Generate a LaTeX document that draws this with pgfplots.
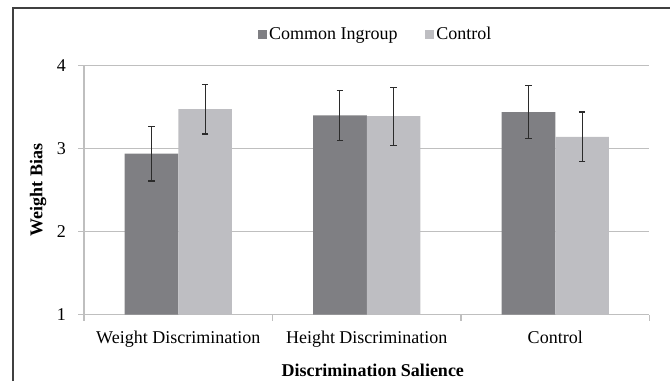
\documentclass[border=0pt]{standalone}
\usepackage{fontspec}
\setmainfont{Liberation Serif}
\usepackage{pgfplots}
\pgfplotsset{compat=1.18}
\definecolor{darkbar}{HTML}{7F7F83}
\definecolor{lightbar}{HTML}{BEBEC2}
\definecolor{gridc}{HTML}{BFBFBF}
\definecolor{errc}{HTML}{2B2B2B}
\definecolor{framec}{HTML}{404040}
\begin{document}
\begin{tikzpicture}[x=1pt,y=1pt]
\useasboundingbox (0,0) rectangle (335,190.5);
\draw[framec, line width=0.7pt] (6.5,0) -- (6.5,186.5) -- (335,186.5);
\begin{axis}[
  at={(42pt,33.2pt)}, anchor=south west,
  scale only axis, width=282.75pt, height=124.5pt,
  font=\fontsize{9}{11}\selectfont,
  /pgf/number format/assume math mode=true,
  ybar=0pt, bar width=26.86pt,
  ymin=1, ymax=4, ytick={1,2,3,4},
  yticklabel style={xshift=-2.5pt},
  xmin=-0.5, xmax=2.5,
  xtick={-0.5,0.5,1.5,2.5}, xticklabels={},
  extra x ticks={0,1,2},
  extra x tick labels={Weight Discrimination, Height Discrimination, Control},
  extra x tick style={major tick length=0pt, grid=none, xticklabel style={yshift=-4.5pt}},
  axis lines*=left, axis line style={gridc, line width=0.6pt, -},
  tick style={gridc, line width=0.6pt},
  major tick length=3pt, tick align=outside,
  ymajorgrids, grid style={gridc, line width=0.6pt},
  every axis y label/.style={at={(axis description cs:0,0.5)}, xshift=-23pt, rotate=90, anchor=center},
  every axis x label/.style={at={(axis description cs:0.5,0)}, xshift=3pt, yshift=-27.7pt, anchor=center},
  ylabel={\textbf{Weight Bias}},
  xlabel={\textbf{Discrimination Salience}},
  legend columns=2,
  legend style={at={(axis description cs:0.516,1.123)}, anchor=center, draw=none, fill=none,
    inner sep=0pt, nodes={inner sep=1.2pt}, /tikz/every even column/.append style={column sep=12.5pt}},
  legend image code/.code={\fill[#1] (0pt,-2.25pt) rectangle (4.5pt,2.25pt);},
]
\addplot[fill=darkbar, draw=none,
  error bars/.cd, y dir=both, y explicit,
  error bar style={errc, line width=0.6pt},
  error mark options={rotate=90, mark size=1.6pt, errc, line width=0.6pt}]
  coordinates {(0,2.94) +- (0,0.33) (1,3.40) +- (0,0.30) (2,3.44) +- (0,0.32)};
\addlegendentry{Common Ingroup}
\addplot[fill=lightbar, draw=none,
  error bars/.cd, y dir=both, y explicit,
  error bar style={errc, line width=0.6pt},
  error mark options={rotate=90, mark size=1.6pt, errc, line width=0.6pt}]
  coordinates {(0,3.475) +- (0,0.30) (1,3.39) +- (0,0.35) (2,3.14) +- (0,0.30)};
\addlegendentry{Control}
\end{axis}
\end{tikzpicture}
\end{document}
